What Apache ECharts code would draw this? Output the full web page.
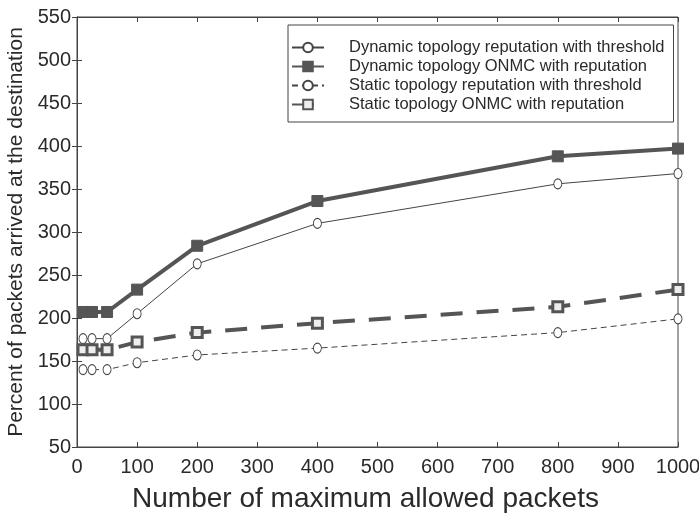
<!DOCTYPE html>
<html><head><meta charset="utf-8">
<script src="https://cdn.jsdelivr.net/npm/echarts@6/dist/echarts.min.js"></script>
<style>html,body{margin:0;padding:0;background:#fff}#c{width:699px;height:516px}</style>
</head><body><div id="c"></div>
<script>
const xValues = [10, 25, 50, 100, 200, 400, 800, 1000];
const dynThreshold = [176, 176, 176, 205, 263, 310, 356, 368];
const dynOnmc = [207, 207, 207, 233, 284, 336, 388, 397];
const staThreshold = [140, 140, 140, 148, 157, 165, 183, 199];
const staOnmc = [163, 163, 163, 172, 183, 194, 213, 233];
const seriesNames = [
  'Dynamic topology reputation with threshold',
  'Dynamic topology ONMC with reputation',
  'Static topology reputation with threshold',
  'Static topology ONMC with reputation'
];
const pair = arr => xValues.map((x, i) => [x, arr[i]]);
const font = '"Liberation Sans", Arial, sans-serif';
const chart = echarts.init(document.getElementById('c'));
const tick = { show: true, inside: true, length: 5, lineStyle: { color: '#444' } };
chart.setOption({
  animation: false,
  backgroundColor: '#fff',
  textStyle: { fontFamily: font },
  grid: { left: 77, right: 21, top: 17, bottom: 69, show: true, borderColor: '#444', borderWidth: 1,
          backgroundColor: 'transparent', containLabel: false, outerBoundsMode: 'none' },
  legend: {
    left: 288, top: 25, orient: 'vertical',
    itemWidth: 32, itemHeight: 12, itemGap: 2,
    padding: [14, 9, 9, 3],
    borderColor: '#444', borderWidth: 1, backgroundColor: '#fff',
    textStyle: { fontFamily: font, fontSize: 16.5, color: '#2a2a2a', padding: [0, 0, 0, 20] },
    data: seriesNames
  },
  xAxis: [{
    type: 'value', min: 0, max: 1000, interval: 100,
    name: 'Number of maximum allowed packets', nameLocation: 'middle', nameGap: 38,
    nameTextStyle: { fontFamily: font, fontSize: 28, color: '#2a2a2a', padding: [0, 24, 0, 0] },
    axisLine: { show: true, lineStyle: { color: '#444' } },
    axisTick: tick,
    axisLabel: { fontFamily: font, fontSize: 20, color: '#2a2a2a', margin: 10, formatter: v => String(v) },
    splitLine: { show: false }
  }, {
    type: 'value', min: 0, max: 1000, interval: 100, position: 'top',
    axisLine: { show: true, lineStyle: { color: '#444' } },
    axisTick: tick,
    axisLabel: { show: false }, splitLine: { show: false }
  }],
  yAxis: [{
    type: 'value', min: 50, max: 550, interval: 50,
    name: 'Percent of packets arrived at the destination', nameLocation: 'middle', nameGap: 48,
    nameTextStyle: { fontFamily: font, fontSize: 21, color: '#2a2a2a' },
    axisLine: { show: true, lineStyle: { color: '#444' } },
    axisTick: tick,
    axisLabel: { fontFamily: font, fontSize: 20, color: '#2a2a2a', margin: 6 },
    splitLine: { show: false }
  }, {
    type: 'value', min: 50, max: 550, interval: 50, position: 'right',
    axisLine: { show: true, lineStyle: { color: '#444' } },
    axisTick: tick,
    axisLabel: { show: false }, splitLine: { show: false }
  }],
  series: [
    { name: seriesNames[0], type: 'line', data: pair(dynThreshold),
      symbol: 'circle', symbolSize: [8, 10], showAllSymbol: true,
      lineStyle: { color: '#444', width: 1 },
      itemStyle: { color: '#fff', borderColor: '#444', borderWidth: 1 } },
    { name: seriesNames[1], type: 'line', data: pair(dynOnmc),
      symbol: 'rect', symbolSize: 11, showAllSymbol: true,
      lineStyle: { color: '#555', width: 4 },
      itemStyle: { color: '#555', borderColor: '#555', borderWidth: 1 } },
    { name: seriesNames[2], type: 'line', data: pair(staThreshold),
      symbol: 'circle', symbolSize: [8, 10], showAllSymbol: true,
      lineStyle: { color: '#444', width: 1, type: [6, 4] },
      itemStyle: { color: '#fff', borderColor: '#444', borderWidth: 1 } },
    { name: seriesNames[3], type: 'line', data: pair(staOnmc),
      symbol: 'rect', symbolSize: 10, showAllSymbol: true,
      lineStyle: { color: '#555', width: 4, type: [22, 14] },
      itemStyle: { color: '#eee', borderColor: '#555', borderWidth: 3 } }
  ]
});
</script></body></html>
